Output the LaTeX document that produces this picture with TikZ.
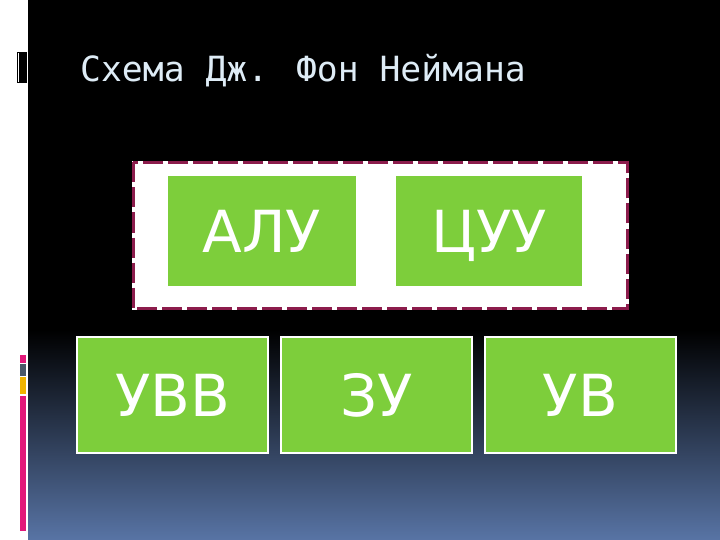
\documentclass[tikz,border=0pt]{standalone}
\usepackage{fontspec}
\setmainfont{DejaVu Sans}
\newfontfamily\titlemono{DejaVu Sans Mono}
\definecolor{boxgreen}{RGB}{125,206,59}
\definecolor{framered}{RGB}{140,28,76}
\definecolor{titleblue}{RGB}{222,236,246}
\definecolor{slideblue}{RGB}{88,116,165}
\definecolor{barpink}{RGB}{226,24,122}
\definecolor{bargrey}{RGB}{74,88,104}
\definecolor{baryellow}{RGB}{240,180,0}

\begin{document}
\begin{tikzpicture}[x=1pt,y=-1pt]
\def \boxw {191pt}
\def \boxh {116pt}
   \tikzset{BoxStyle/.style = {rectangle, fill = boxgreen, draw = white, line width = 2.5pt, minimum width = \boxw, minimum height = \boxh, inner sep = 0pt, text height = 42pt, text depth = 0pt, text = white, font = \fontsize{58}{60}\selectfont}}
   \tikzset{FrameStyle/.style = {rectangle, fill = white, draw = white, line width = 3pt, outer sep = 0pt, minimum width = 494pt, minimum height = 146pt, inner sep = 0pt}}
   \tikzset{DashStyle/.style = {draw = framered, line width = 3pt, dash pattern = on 20pt off 5pt}}
   \useasboundingbox (0,0) rectangle (720,540);
   % slide background
   \fill[black] (28,0) rectangle (720,540);
   \shade[top color=black, bottom color=slideblue] (28,330) rectangle (720,540);
   \fill[black] (16.5,52) rectangle (27,83);
   \draw[white, line width=1pt] (18.8,53) -- (18.8,82);
   \fill[barpink] (20,355) rectangle (26,363);
   \fill[bargrey] (20,364) rectangle (26,376);
   \fill[baryellow] (20,377) rectangle (26,394);
   \fill[barpink] (20,396) rectangle (26,531);

   \node[anchor=base west, text=titleblue, font=\titlemono\fontsize{34.7}{40}\selectfont, inner sep=0pt] (Title) at (80,82) {Схема Дж. Фон Неймана};

   \node[FrameStyle] (CPU) at (380,235.5) {};
   \draw[DashStyle] (CPU.north west) rectangle (CPU.south east);
   \node[BoxStyle, minimum width=190pt, minimum height=112pt] (ALU) at (262,231) {АЛУ};
   \node[BoxStyle, minimum width=188pt, minimum height=112pt] (CUU) at (489,231) {ЦУУ};

   \node[BoxStyle] (UVV) at (172.5,395) {УВВ};
   \node[BoxStyle] (ZU) at (376.5,395) {ЗУ};
   \node[BoxStyle] (UV) at (580.5,395) {УВ};
\end{tikzpicture}
\end{document}
